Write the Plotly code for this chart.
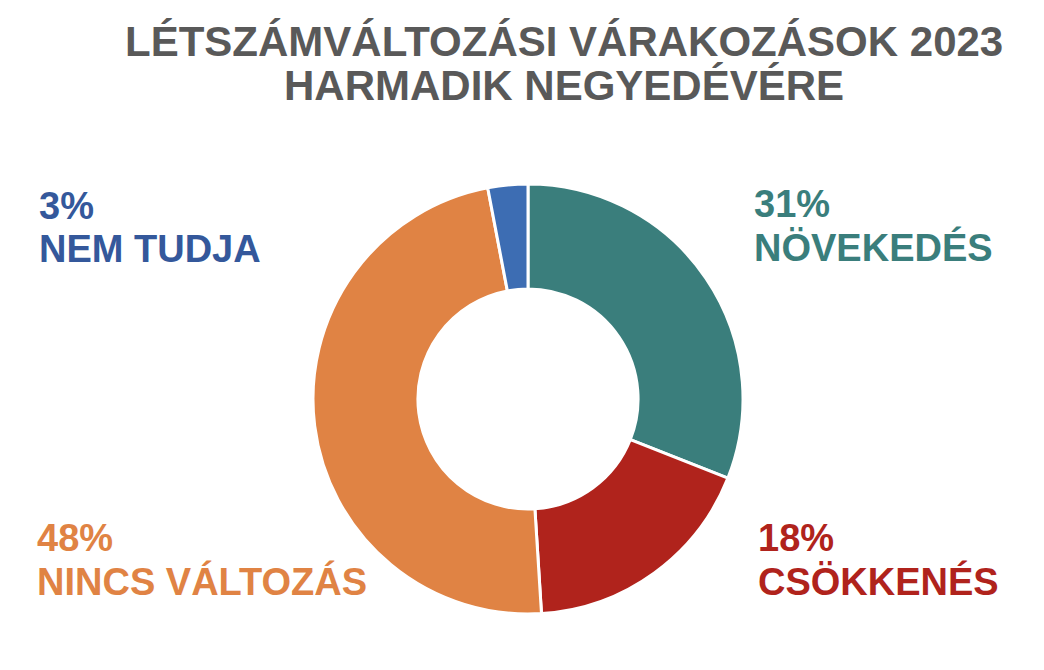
import plotly.graph_objects as go

W, H = 1044, 670
OFF = 8  # page body margin shifts the figure by this many pixels

categories = ["NÖVEKEDÉS", "CSÖKKENÉS", "NINCS VÁLTOZÁS", "NEM TUDJA"]
shares = [31, 18, 48, 3]
colors = ["#3a7e7c", "#b0231c", "#e08344", "#3d6db3"]
text_colors = ["#3a7e7c", "#b0231c", "#e08344", "#34589b"]

title_lines = ["LÉTSZÁMVÁLTOZÁSI VÁRAKOZÁSOK 2023", "HARMADIK NEGYEDÉVÉRE"]

# label anchor (left edge, pixel y of the percent line) per category
label_pos = {
    "NÖVEKEDÉS": (752, 204),
    "CSÖKKENÉS": (756, 538),
    "NINCS VÁLTOZÁS": (35, 538),
    "NEM TUDJA": (37, 206),
}

FONT = "Liberation Sans, Arial, sans-serif"


def px(x, y):
    return (x - OFF) / W, 1 - (y - OFF) / H


cx, cy, r = 528 - OFF, 399 - OFF, 215

fig = go.Figure(go.Pie(
    labels=categories,
    values=shares,
    marker=dict(colors=colors, line=dict(color="white", width=3)),
    hole=0.512,
    sort=False,
    direction="clockwise",
    rotation=0,
    textinfo="none",
    hoverinfo="label+percent",
    domain=dict(x=[(cx - r) / W, (cx + r) / W], y=[1 - (cy + r) / H, 1 - (cy - r) / H]),
    showlegend=False,
))

annotations = []
for i, line in enumerate(title_lines):
    x, y = px(564, 42 + i * 44)
    annotations.append(dict(
        text=f"<b>{line}</b>", x=x, y=y, xref="paper", yref="paper",
        xanchor="center", yanchor="middle", showarrow=False,
        font=dict(family=FONT, size=42, color="#595959"),
    ))

for cat, val, col in zip(categories, shares, text_colors):
    lx, ly = label_pos[cat]
    for j, txt in enumerate([f"{val}%", cat]):
        x, y = px(lx, ly + j * 43)
        annotations.append(dict(
            text=f"<b>{txt}</b>", x=x, y=y, xref="paper", yref="paper",
            xanchor="left", yanchor="middle", showarrow=False,
            font=dict(family=FONT, size=38, color=col),
        ))

fig.update_layout(
    width=W, height=H,
    margin=dict(l=0, r=0, t=0, b=0),
    paper_bgcolor="white",
    plot_bgcolor="white",
    annotations=annotations,
)

fig.write_html("out.html")
